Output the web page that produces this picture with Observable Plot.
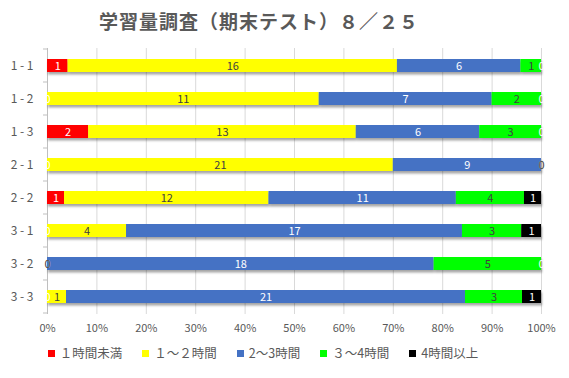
<!DOCTYPE html>
<html><head><meta charset="utf-8">
<script src="https://cdn.jsdelivr.net/npm/d3@7"></script>
<script src="https://cdn.jsdelivr.net/npm/@observablehq/plot@0.6"></script>
<style>
body{margin:0;background:#fff;font-family:"Noto Sans CJK JP","Noto Sans",sans-serif;}
#wrap{width:569px;height:378px;position:relative;overflow:hidden;background:#fff}
#title{position:absolute;left:0;top:8px;width:518px;text-align:center;font-size:19px;font-weight:bold;color:#595959;letter-spacing:1px;line-height:26px}
#chart{position:absolute;left:0;top:38px}
#legend{position:absolute;left:0;top:344px;width:526px;display:flex;justify-content:center;gap:20px;font-size:12.5px;color:#595959;line-height:18px}
#legend .it{display:flex;align-items:center;gap:5px}
#legend .sw{width:7px;height:7px;display:inline-block}
</style></head>
<body>
<div id="wrap">
  <div id="title">学習量調査（期末テスト）８／２５</div>
  <div id="chart"></div>
  <div id="legend"></div>
</div>
<script>
const classes = ["1 - 1","1 - 2","1 - 3","2 - 1","2 - 2","3 - 1","3 - 2","3 - 3"];
const series = ["１時間未満","１～２時間","2～3時間","３～4時間","4時間以上"];
const colors = ["#ff0000","#ffff00","#4472c4","#00ff00","#000000"];
const labelDark = [false,true,false,true,false];
const under1 = [1,0,2,0,1,0,0,0];
const h1to2  = [16,11,13,21,12,4,0,1];
const h2to3  = [6,7,6,9,11,17,18,21];
const h3to4  = [1,2,3,0,4,3,5,3];
const over4  = [0,0,0,0,1,1,0,1];
const xTicks = [0,0.1,0.2,0.3,0.4,0.5,0.6,0.7,0.8,0.9,1];

const seriesValues = [under1,h1to2,h2to3,h3to4,over4];
const data = [];
classes.forEach((c,i) => seriesValues.forEach((vals,s) => data.push({cls:c, cat:series[s], value:vals[i], dark:labelDark[s]})));

const stackOpts = {x:"value", y:"cls", z:"cat", offset:"normalize", order:series};

const plot = Plot.plot({
  width:569, height:300,
  marginLeft:47, marginRight:28, marginTop:10, marginBottom:24,
  style:{fontFamily:'"Noto Sans CJK JP","Noto Sans",sans-serif', background:"#fff"},
  x:{domain:[0,1], label:null},
  y:{domain:classes, paddingInner:0.6, paddingOuter:0.3, label:null},
  color:{domain:series, range:colors},
  marks:[
    Plot.gridX({ticks:xTicks, stroke:"#d9d9d9", strokeOpacity:1}),
    Plot.ruleX([0], {stroke:"#bfbfbf"}),
    Plot.barX(data, Plot.stackX({...stackOpts, fill:"cat"})),
    Plot.text(data, Plot.stackX({...stackOpts, text:d => d.dark ? "" : String(d.value), fill:"white", fontSize:11})),
    Plot.text(data, Plot.stackX({...stackOpts, text:d => d.dark ? String(d.value) : "", fill:"#404040", fontSize:11})),
    Plot.axisX({ticks:xTicks, tickFormat:d => Math.round(d*100)+"%", tickSize:0, tickPadding:10, fontSize:11, color:"#595959", label:null}),
    Plot.axisY({tickSize:0, tickPadding:14, fontSize:12, color:"#595959", label:null})
  ]
});
document.getElementById("chart").appendChild(plot);

// shadow & boundary ticks
const svg = d3.select(plot);
svg.insert("defs",":first-child").html('<filter id="sh" x="-5%" y="-50%" width="110%" height="220%"><feDropShadow dx="1" dy="2.5" stdDeviation="1.3" flood-color="#000" flood-opacity="0.35"/></filter>');
svg.selectAll('g[aria-label="bar"]').attr("filter","url(#sh)");
const ys = plot.scale("y");
const half = (ys.step - ys.bandwidth)/2;
const bounds = classes.map(c => ys.apply(c) - half);
bounds.push(ys.apply(classes[classes.length-1]) + ys.bandwidth + half);
const x0 = plot.scale("x").apply(0);
svg.append("g").selectAll("line").data(bounds).join("line")
  .attr("x1", x0-4).attr("x2", x0).attr("y1", d=>d).attr("y2", d=>d)
  .attr("stroke","#bfbfbf");

const lg = d3.select("#legend");
series.forEach((s,i) => {
  const it = lg.append("div").attr("class","it");
  it.append("span").attr("class","sw").style("background", colors[i]);
  it.append("span").text(s);
});
</script>
</body></html>
